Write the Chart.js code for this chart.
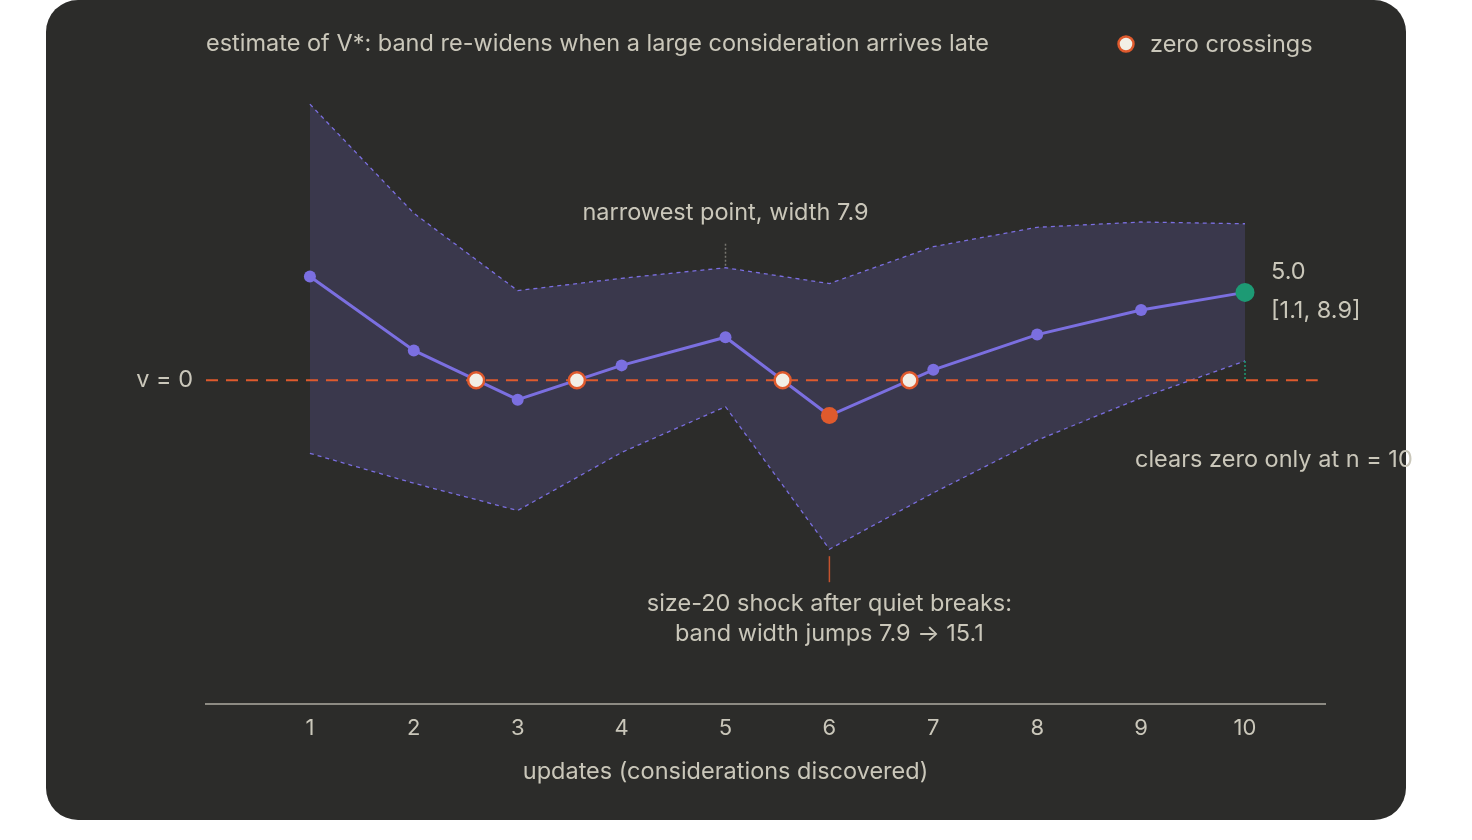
<!DOCTYPE html>
<html>
<head>
<meta charset="utf-8">
<script src="https://cdn.jsdelivr.net/npm/chart.js@4.4.0/dist/chart.umd.min.js"></script>
<style>
  html, body { margin: 0; background: #ffffff; }
  canvas { display: block; }
</style>
</head>
<body>
<canvas id="graf_estimate" width="1472" height="840"></canvas>
<script>
// Data
var updates = [1, 2, 3, 4, 5, 6, 7, 8, 9, 10];
var estimate = [5.9, 1.7, -1.1, 0.85, 2.45, -2.0, 0.6, 2.6, 4.0, 5.0];
var bandUpper = [15.7, 9.5, 5.1, 5.8, 6.4, 5.5, 7.6, 8.7, 9.0, 8.9];
var bandLower = [-4.15, -5.85, -7.4, -4.1, -1.5, -9.6, -6.4, -3.4, -1.0, 1.1];
var crossingsX = [2.6, 3.57, 5.55, 6.77];
var zeroLineX = [0, 10.7];

var titleText = 'estimate of V*: band re-widens when a large consideration arrives late';
var xTitleText = 'updates (considerations discovered)';
var legendText = 'zero crossings';
var narrowIndex = 4;
var shockIndex = 5;
var lastIndex = estimate.length - 1;

var purple = '#7b6fe0';
var orange = '#df5a2d';
var green = '#1d9a74';
var cream = '#f2efe6';
var ink = '#cac7ba';
var fontName = 'Inter, "Noto Sans", sans-serif';

Chart.defaults.font.family = fontName;
Chart.defaults.color = ink;

function pts(xsArr, ysArr) {
  return xsArr.map(function (v, i) { return { x: v, y: ysArr[i] }; });
}

// fondo de la tarjeta, leyenda y anotaciones
var notes = {
  id: 'notes',
  beforeDraw: function (chart) {
    var c = chart.ctx;
    c.save();
    c.fillStyle = '#2c2c2a';
    c.beginPath();
    c.roundRect(46, 0, 1360, 820, 32);
    c.fill();
    c.restore();
  },
  afterDraw: function (chart) {
    var c = chart.ctx, sx = chart.scales.x, sy = chart.scales.y;
    var px = function (v) { return sx.getPixelForValue(v); };
    var py = function (v) { return sy.getPixelForValue(v); };
    var f = function (s) { return s + 'px ' + fontName; };
    c.save();
    c.fillStyle = ink;
    c.textBaseline = 'middle';

    // title
    c.font = f(23.5);
    c.textAlign = 'left';
    c.fillText(titleText, sx.left, 44);

    // legend
    c.fillText(legendText, 1150, 45);
    c.beginPath();
    c.arc(1126, 44, 7.5, 0, Math.PI * 2);
    c.fillStyle = cream;
    c.fill();
    c.lineWidth = 2.5;
    c.strokeStyle = orange;
    c.stroke();
    c.fillStyle = ink;

    // x axis title
    c.textAlign = 'center';
    c.fillText(xTitleText, (px(0) + px(updates[lastIndex])) / 2, 772);

    // v = 0
    c.textAlign = 'right';
    c.fillText('v = 0', sx.left - 13, py(0));

    // narrowest point
    var nx = px(updates[narrowIndex]), ny = py(bandUpper[narrowIndex]);
    c.strokeStyle = '#77756f';
    c.lineWidth = 1.5;
    c.setLineDash([2, 2]);
    c.beginPath(); c.moveTo(nx, ny - 24); c.lineTo(nx, ny - 2); c.stroke();
    c.textAlign = 'center';
    c.fillText('narrowest point, width 7.9', nx, ny - 55);

    // shock
    var sxp = px(updates[shockIndex]), syp = py(bandLower[shockIndex]);
    c.setLineDash([]);
    c.strokeStyle = '#c4532e';
    c.beginPath(); c.moveTo(sxp, syp + 7); c.lineTo(sxp, syp + 33); c.stroke();
    c.fillText('size-20 shock after quiet breaks:', sxp, syp + 55);
    c.fillText('band width jumps 7.9 \u2192 15.1', sxp, syp + 85);

    // last point
    var lx = px(updates[lastIndex]), ly = py(estimate[lastIndex]);
    c.textAlign = 'left';
    c.fillText('5.0', lx + 26, ly - 20);
    c.fillText('[1.1, 8.9]', lx + 26, ly + 19);
    c.strokeStyle = green;
    c.setLineDash([2, 2]);
    c.beginPath(); c.moveTo(lx, py(bandLower[lastIndex])); c.lineTo(lx, py(0)); c.stroke();
    c.fillText('clears zero only at n = 10', lx - 110, py(0) + 80);
    c.restore();
  }
};

var ctx = document.getElementById('graf_estimate').getContext('2d');

var chart = new Chart(ctx, {
  type: 'line',
  data: {
    datasets: [
      {
        label: legendText,
        data: crossingsX.map(function (v) { return { x: v, y: 0 }; }),
        showLine: false,
        pointRadius: 8,
        pointBorderWidth: 2.5,
        pointBackgroundColor: cream,
        pointBorderColor: orange,
        order: 0,
        clip: false
      },
      {
        label: 'estimate',
        data: pts(updates, estimate),
        borderColor: purple,
        borderWidth: 3,
        pointBorderWidth: 0,
        pointRadius: function (c) {
          return c.dataIndex === shockIndex ? 8.5 : (c.dataIndex === lastIndex ? 9.5 : 6);
        },
        pointBackgroundColor: function (c) {
          return c.dataIndex === shockIndex ? orange : (c.dataIndex === lastIndex ? green : purple);
        },
        fill: false,
        order: 1,
        clip: false
      },
      {
        label: 'v = 0',
        data: zeroLineX.map(function (v) { return { x: v, y: 0 }; }),
        borderColor: orange,
        borderWidth: 2,
        borderDash: [12, 8],
        pointRadius: 0,
        fill: false,
        order: 2,
        clip: false
      },
      {
        label: 'upper',
        data: pts(updates, bandUpper),
        borderColor: purple,
        borderWidth: 1.3,
        borderDash: [4, 4],
        pointRadius: 0,
        fill: '+1',
        backgroundColor: 'rgba(124, 111, 224, 0.19)',
        order: 3
      },
      {
        label: 'lower',
        data: pts(updates, bandLower),
        borderColor: purple,
        borderWidth: 1.3,
        borderDash: [4, 4],
        pointRadius: 0,
        fill: false,
        order: 4
      }
    ]
  },
  options: {
    responsive: false,
    animation: false,
    layout: { padding: { left: 206, right: 147, top: 25, bottom: 100 } },
    scales: {
      x: {
        type: 'linear',
        min: 0,
        max: 10.77,
        grid: { display: false, drawTicks: false },
        border: { display: true, color: '#8d8b83', width: 2 },
        afterBuildTicks: function (scale) {
          scale.ticks = updates.map(function (v) { return { value: v }; });
        },
        afterFit: function (scale) { scale.height = 36; },
        ticks: {
          padding: 11,
          color: ink,
          font: { size: 22 },
          maxRotation: 0,
          callback: function (v) { return String(v); }
        }
      },
      y: {
        display: false,
        min: -18.4,
        max: 20.2
      }
    },
    plugins: {
      legend: { display: false },
      tooltip: { enabled: false }
    }
  },
  plugins: [notes]
});
</script>
</body>
</html>
